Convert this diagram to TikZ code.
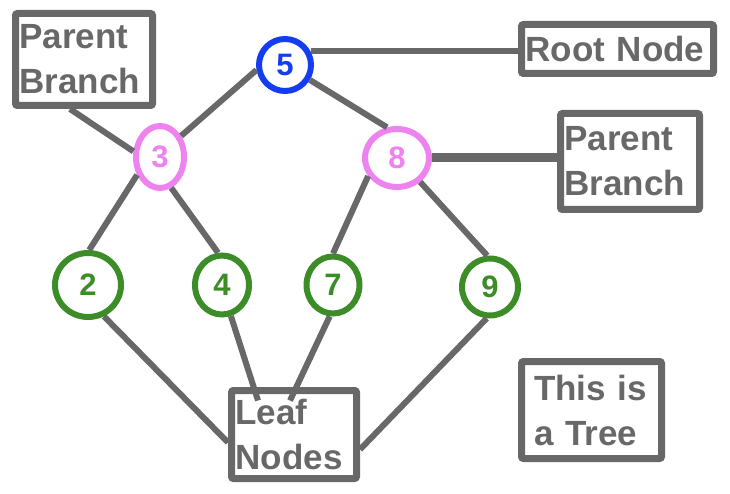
\documentclass[tikz,border=0pt]{standalone}
\usepackage{fontspec}
\setmainfont{Liberation Sans}
\usetikzlibrary{shapes.geometric}
\definecolor{edgegray}{RGB}{104,104,104}
\definecolor{rootblue}{RGB}{20,60,240}
\definecolor{branchpink}{RGB}{238,130,238}
\definecolor{leafgreen}{RGB}{60,140,40}
\tikzset{
  treenode/.style={ellipse, draw, fill=white, line width=6pt, inner sep=0pt,
    font=\fontsize{31}{31}\selectfont\bfseries},
  rootnode/.style={treenode, draw=rootblue, text=rootblue},
  parentnode/.style={treenode, draw=branchpink, text=branchpink},
  leafnode/.style={treenode, draw=leafgreen, text=leafgreen},
  note/.style={draw=edgegray, fill=white, line width=7pt, rounded corners=2pt,
    inner sep=4pt, align=left, text=edgegray,
    font=\fontsize{35}{45}\selectfont\bfseries},
  branch/.style={edgegray, line width=6pt},
}

\begin{document}
\begin{tikzpicture}[x=1pt, y=-1pt]
  \useasboundingbox (0,0) rectangle (730,494);

  % ---------- tree ----------
  \node[rootnode, minimum width=52pt, minimum height=52pt] (n5) at (285,65) {5};
  \node[parentnode, minimum width=48pt, minimum height=62pt] (n3) at (160,157) {3};
  \node[parentnode, minimum width=64pt, minimum height=58pt] (n8) at (397,158) {8};
  \node[leafnode, minimum width=66pt, minimum height=64pt] (n2) at (88,285) {2};
  \node[leafnode, minimum width=54pt, minimum height=59pt] (n4) at (222,285) {4};
  \node[leafnode, minimum width=53pt, minimum height=57pt] (n7) at (333,285) {7};
  \node[leafnode, minimum width=56pt, minimum height=57pt] (n9) at (490,287) {9};

  % ---------- labels ----------
  \node[note, text width=129pt, minimum width=137pt, minimum height=92pt] (pbl) at (84,59.5) {Parent\\Branch};
  \node[note, text width=184pt, minimum width=192pt, minimum height=49pt] (root) at (617.5,49) {Root Node};
  \node[note, text width=131pt, minimum width=139pt, minimum height=96pt] (pbr) at (630,161.5) {Parent\\Branch};
  \node[note, text width=117pt, minimum width=125pt, minimum height=88pt] (leaf) at (294,434.5) {Leaf\\Nodes};
  \node[note, text width=115pt, minimum width=140pt, minimum height=97pt] (tree) at (591.5,410) {This is\\a Tree};

  % branches
  \draw[branch] (n5.190) -- (n3.45);
  \draw[branch] (n5.-31) -- (n8.108);
  \draw[branch] (n3.-142) -- (n2.88);
  \draw[branch] (n3.-70) -- (n4.97);
  \draw[branch] (n8.-148) -- (n7.90);
  \draw[branch] (n8.-46) -- (n9.95);

  % pointers to the labels
  \draw[branch] (n5.28) -- (n5.28 -| root.west);
  \draw[branch] ([xshift=-14pt]pbl.south) -- (n3.168);
  \draw[branch, line width=9pt] (n8.east) -- (n8.east -| pbr.west);
  \draw[branch] (n2.-63) -- ([yshift=-8pt]leaf.west);
  \draw[branch] (n4.-74) -- ([xshift=-36pt,yshift=34pt]leaf.center);
  \draw[branch] (n7.-96) -- ([xshift=-4pt,yshift=34pt]leaf.center);
  \draw[branch] (n9.-96) -- ([yshift=-15pt]leaf.east);
\end{tikzpicture}
\end{document}
